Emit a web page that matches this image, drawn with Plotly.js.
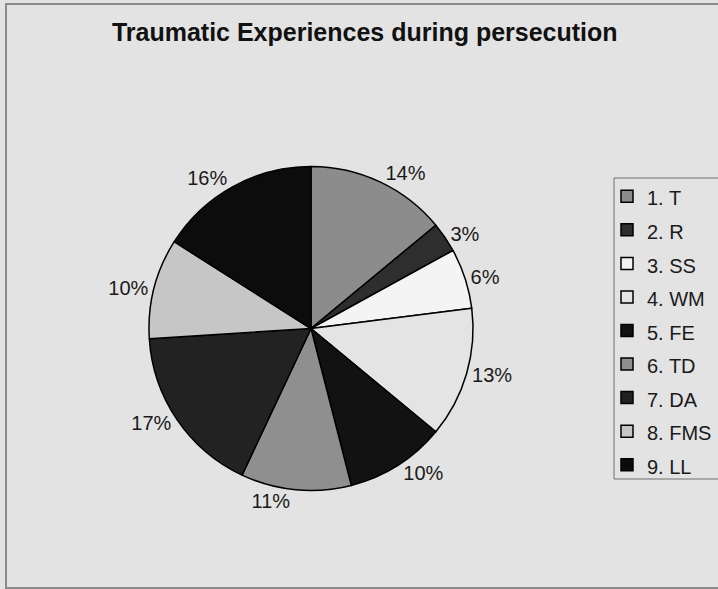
<!DOCTYPE html>
<html>
<head>
<meta charset="utf-8">
<script src="https://cdn.plot.ly/plotly-3.0.1.min.js"></script>
<style>
  html, body { margin: 0; padding: 0; background: #f0f0f0; }
  #wrap { position: absolute; left: 0; top: 0; width: 718px; height: 589px; }
  #frame { position: absolute; left: 5px; top: 3px; width: 720px; height: 582px;
           border-left: 2px solid #8a8a8a; border-top: 2px solid #8a8a8a; border-bottom: 2px solid #8a8a8a; pointer-events: none; }
  #chart { position: absolute; left: 0; top: 0; width: 718px; height: 589px; }
</style>
</head>
<body>
<div id="wrap">
  <div id="chart"></div>
  <div id="frame"></div>
</div>
<script>
const categories = ["1. T", "2. R", "3. SS", "4. WM", "5. FE", "6. TD", "7. DA", "8. FMS", "9. LL"];
const percentages = [14, 3, 6, 13, 10, 11, 17, 10, 16];
const sliceColors = ["#8c8c8c", "#2e2e2e", "#f4f4f4", "#e4e4e4", "#121212", "#8f8f8f", "#222222", "#c6c6c6", "#0c0c0c"];
const chartTitle = "Traumatic Experiences during persecution";

const legendLabels = categories.map(c => '<span style="font-size:20px">' + c + '</span>');

const trace = {
  type: 'pie',
  labels: legendLabels,
  values: percentages,
  sort: false,
  direction: 'clockwise',
  rotation: 0,
  marker: { colors: sliceColors, line: { color: '#000000', width: 1.5 } },
  texttemplate: '%{value}%',
  textposition: 'outside',
  outsidetextfont: { family: 'Liberation Sans, Arial, sans-serif', size: 20, color: '#1a1a1a' },
  hoverinfo: 'none',
  domain: { x: [0.2075, 0.6588], y: [0.1672, 0.7173] }
};

const layout = {
  width: 718, height: 589,
  margin: { l: 0, r: 0, t: 0, b: 0 },
  paper_bgcolor: '#e3e3e3',
  plot_bgcolor: '#e3e3e3',
  title: {
    text: '<b>' + chartTitle + '</b>',
    font: { family: 'Liberation Sans, Arial, sans-serif', size: 25, color: '#111111' },
    x: 0.508, xanchor: 'center', y: 0.946, yanchor: 'middle'
  },
  showlegend: true,
  legend: {
    x: 607 / 718, xanchor: 'left', y: 0.7037, yanchor: 'top',
    bgcolor: 'rgba(0,0,0,0)', borderwidth: 0,
    font: { family: 'Liberation Sans, Arial, sans-serif', size: 23.5, color: '#1a1a1a' },
    traceorder: 'normal'
  },
  shapes: [{
    type: 'rect', xref: 'paper', yref: 'paper',
    x0: 614 / 718, x1: 1.02, y0: 1 - 479 / 589, y1: 1 - 178 / 589,
    line: { color: '#6e6e6e', width: 1 }, fillcolor: 'rgba(0,0,0,0)', layer: 'below'
  }]
};

Plotly.newPlot('chart', [trace], layout, { staticPlot: true, displayModeBar: false });
</script>
</body>
</html>
